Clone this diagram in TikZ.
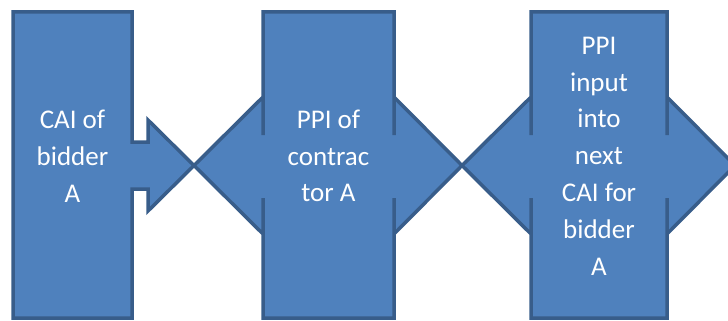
\documentclass[tikz,border=0pt]{standalone}
\usepackage{fontspec}
\setmainfont{Carlito}
\definecolor{boxfill}{HTML}{4F81BD}
\definecolor{boxline}{HTML}{385D8A}
\tikzset{
  shapebox/.style={fill=boxfill, draw=boxline, line width=3.5pt, line join=miter},
  label/.style={text=white, align=center, inner sep=0pt, font=\fontsize{27}{36.8}\selectfont}
}
\begin{document}
\begin{tikzpicture}[x=1pt, y=-1pt]
\useasboundingbox (0,0) rectangle (728,321);
\clip (0,0) rectangle (728,321);
% shape 1: box with right arrow
\path[shapebox] (13,12) -- (132,12) -- (132,142) -- (148,142) -- (148,120) -- (194,165.5)
  -- (148,211) -- (148,189) -- (132,189) -- (132,318) -- (13,318) -- cycle;
% shape 2: box with left-right arrows
\path[shapebox] (263,12) -- (394,12) -- (394,135) -- (394,97) -- (462,165.5) -- (394,234)
  -- (394,198) -- (394,318) -- (263,318) -- (263,198) -- (263,234) -- (194,165.5)
  -- (263,97) -- (263,135) -- cycle;
% shape 3: box with left-right arrows
\path[shapebox] (531,12) -- (667,12) -- (667,135) -- (667,97) -- (735,165.5) -- (667,234)
  -- (667,198) -- (667,318) -- (531,318) -- (531,198) -- (531,234) -- (462,165.5)
  -- (531,97) -- (531,135) -- cycle;
\node[label] (t1) at (72.5,156) {CAI of\\bidder\\A};
\node[label] (t2) at (328.5,156) {PPI of\\contrac\\tor A};
\node[label] (t3) at (599,156) {PPI\\input\\into\\next\\CAI for\\bidder\\A};
\end{tikzpicture}
\end{document}
